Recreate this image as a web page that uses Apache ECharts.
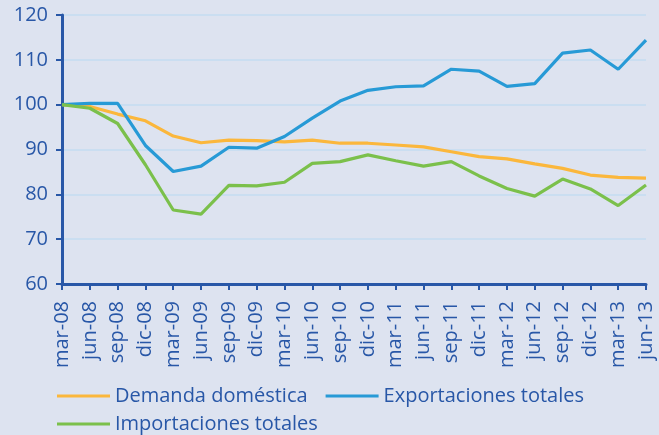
<!DOCTYPE html>
<html>
<head>
<meta charset="utf-8">
<script src="https://cdn.jsdelivr.net/npm/echarts@6/dist/echarts.min.js"></script>
<style>
  html, body { margin: 0; padding: 0; background: #dde3f0; }
  #chart { width: 659px; height: 435px; }
</style>
</head>
<body>
<div id="chart"></div>
<script>
// trimestres
var categories = ['mar-08','jun-08','sep-08','dic-08','mar-09','jun-09','sep-09','dic-09','mar-10','jun-10','sep-10',
                  'dic-10','mar-11','jun-11','sep-11','dic-11','mar-12','jun-12','sep-12','dic-12','mar-13','jun-13'];
var demandaDomestica = [100,99.6,97.9,96.4,93.0,91.5,92.1,92.0,91.7,92.1,91.4,91.4,91.0,90.6,89.5,88.4,87.9,86.8,85.8,84.3,83.8,83.6];
var exportacionesTotales = [100,100.3,100.3,90.9,85.1,86.3,90.5,90.3,92.9,97.0,100.8,103.2,104.0,104.2,107.9,107.5,104.1,104.7,111.5,112.2,107.9,114.4];
var importacionesTotales = [100,99.2,95.8,86.6,76.5,75.6,82.0,81.9,82.7,86.9,87.3,88.8,87.5,86.3,87.3,84.1,81.3,79.6,83.4,81.2,77.5,82.1];
var yTicks = [60, 120, 10]; // min, max, interval

var axisBlue = '#2857a7';
var font = 'Open Sans, Noto Sans, sans-serif';

var chart = echarts.init(document.getElementById('chart'));
var option = {
    backgroundColor: '#dde3f0',
    animation: false,
    grid: { left: 62, right: 13, top: 15, bottom: 151 },
    legend: [
        {
            left: 52, top: 381,
            data: ['Demanda doméstica', 'Exportaciones totales'],
            icon: 'rect', itemWidth: 53, itemHeight: 3, itemGap: 18,
            textStyle: { color: axisBlue, fontSize: 20, fontFamily: font }
        },
        {
            left: 52, top: 409,
            data: ['Importaciones totales'],
            icon: 'rect', itemWidth: 53, itemHeight: 3,
            textStyle: { color: axisBlue, fontSize: 20, fontFamily: font }
        }
    ],
    xAxis: {
        type: 'category',
        data: categories,
        boundaryGap: false,
        axisLine: { lineStyle: { color: axisBlue, width: 3 } },
        axisTick: { show: true, length: 6, lineStyle: { color: axisBlue, width: 2 } },
        axisLabel: { rotate: 90, color: axisBlue, fontSize: 20, fontFamily: font, margin: 17 },
        splitLine: { show: false }
    },
    yAxis: {
        type: 'value',
        min: yTicks[0], max: yTicks[1], interval: yTicks[2],
        axisLine: { show: true, lineStyle: { color: axisBlue, width: 3 } },
        axisTick: { show: true, length: 6, lineStyle: { color: axisBlue, width: 2 } },
        axisLabel: { color: axisBlue, fontSize: 20, fontFamily: font, margin: 14 },
        splitLine: { lineStyle: { color: '#c3dcf2', width: 1.5 } }
    },
    series: [
        {
            name: 'Demanda doméstica', type: 'line', data: demandaDomestica,
            showSymbol: false, symbol: 'none',
            lineStyle: { color: '#fbb73c', width: 3.2 }, itemStyle: { color: '#fbb73c' }
        },
        {
            name: 'Exportaciones totales', type: 'line', data: exportacionesTotales,
            showSymbol: false, symbol: 'none',
            lineStyle: { color: '#279ad6', width: 3.2 }, itemStyle: { color: '#279ad6' }
        },
        {
            name: 'Importaciones totales', type: 'line', data: importacionesTotales,
            showSymbol: false, symbol: 'none',
            lineStyle: { color: '#7bc04b', width: 3.2 }, itemStyle: { color: '#7bc04b' }
        }
    ]
};
chart.setOption(option);
</script>
</body>
</html>
